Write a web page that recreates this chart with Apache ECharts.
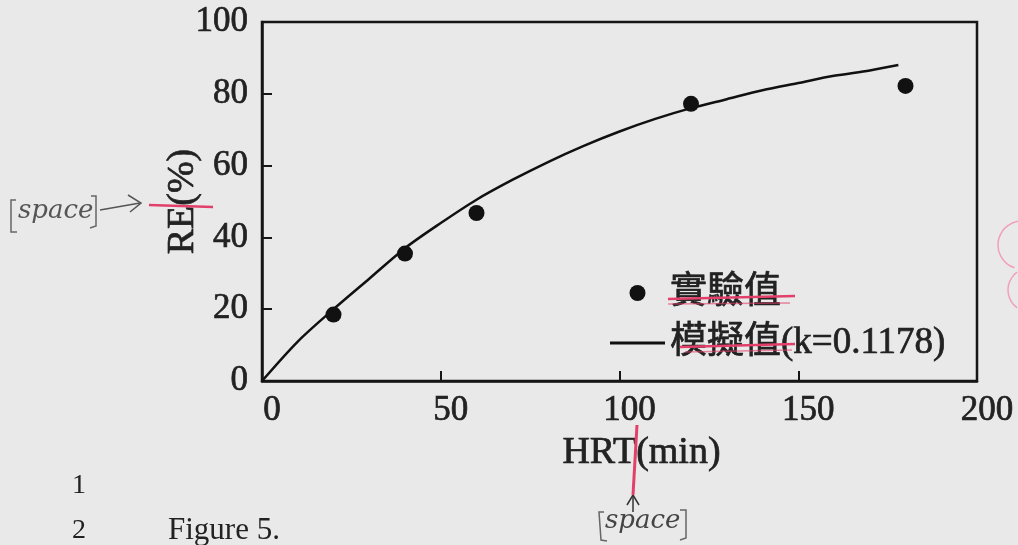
<!DOCTYPE html>
<html>
<head>
<meta charset="utf-8">
<script src="https://cdn.jsdelivr.net/npm/echarts@6/dist/echarts.min.js"></script>
<style>
html,body{margin:0;padding:0;background:#e9e9e9;}
#chart{width:1018px;height:545px;}
</style>
</head>
<body>
<div id="chart"></div>
<script>
// Data
const expHRT = [20, 40, 60, 120, 180];
const expRE = [18.5, 35.5, 46.8, 77.2, 82.2];
const modelHRT = [0, 10, 20, 30, 40, 50, 60, 70, 80, 90, 100, 110, 120, 130, 140, 150, 160, 170, 178];
const modelRE = [0, 11, 20, 28.5, 37, 44, 50.5, 56, 61, 65.5, 69.5, 73, 76, 78.5, 81, 83, 85, 86.5, 88];
const xTicks = [0, 50, 100, 150, 200];
const yTicks = [0, 20, 40, 60, 80, 100];
const seriesNames = ['實驗值', '模擬值(k=0.1178)'];

const serif = '"Liberation Serif", "Noto Sans CJK TC", serif';
const ink = '#161616';
const txt = '#222';
const red = '#e2406a';
const thick = { textBorderColor: txt, textBorderWidth: 0.7 };

const chart = echarts.init(document.getElementById('chart'));
chart.setOption({
  animation: false,
  backgroundColor: '#e9e9e9',
  grid: {
    left: 262, right: 41, top: 22, bottom: 164,
    show: true, borderColor: ink, borderWidth: 2.5, backgroundColor: 'transparent'
  },
  xAxis: {
    type: 'value', min: xTicks[0], max: xTicks[xTicks.length - 1], interval: 50,
    name: 'HRT(min)', nameLocation: 'middle', nameGap: 46,
    nameTextStyle: Object.assign({ fontFamily: serif, fontSize: 38, color: txt, padding: [0, 0, 0, 44] }, thick),
    axisLine: { show: true, lineStyle: { color: ink, width: 2.5 } },
    axisTick: { show: true, inside: true, length: 10, lineStyle: { color: ink, width: 2 } },
    axisLabel: Object.assign({ margin: 12, fontFamily: serif, fontSize: 35, color: txt, padding: [0, 0, 0, 20] }, thick),
    splitLine: { show: false }
  },
  yAxis: {
    type: 'value', min: yTicks[0], max: yTicks[yTicks.length - 1], interval: 20,
    name: 'RE(%)', nameLocation: 'middle', nameGap: 60, nameRotate: 90, nameMoveOverlap: false,
    nameTextStyle: Object.assign({ fontFamily: serif, fontSize: 38, color: txt }, thick),
    axisLine: { show: true, lineStyle: { color: ink, width: 2.5 } },
    axisTick: { show: true, inside: true, length: 10, lineStyle: { color: ink, width: 2 } },
    axisLabel: Object.assign({ margin: 14, fontFamily: serif, fontSize: 35, color: txt, padding: [6, 0, 0, 0] }, thick),
    splitLine: { show: false }
  },
  legend: {
    orient: 'vertical', left: 605, top: 268, itemWidth: 55, itemHeight: 16, itemGap: 10,
    textStyle: Object.assign({ fontFamily: serif, fontSize: 37, color: txt, lineHeight: 40 }, thick),
    data: [
      { name: seriesNames[0], icon: 'circle' },
      { name: seriesNames[1], icon: 'path://M0 0H55V3H0Z', itemStyle: { color: '#111' } }
    ]
  },
  series: [
    {
      name: seriesNames[0], type: 'scatter', symbol: 'circle', symbolSize: 16,
      itemStyle: { color: '#111', opacity: 1 },
      data: expHRT.map((x, i) => [x, expRE[i]])
    },
    {
      name: seriesNames[1], type: 'line', symbol: 'none', smooth: 0.3,
      lineStyle: { color: '#111', width: 2.5 }, itemStyle: { color: '#111' },
      data: modelHRT.map((x, i) => [x, modelRE[i]])
    }
  ],
  graphic: [
    { type: 'text', left: 72, top: 472, style: { text: '1', font: '28px "Liberation Serif"', fill: '#222' } },
    { type: 'text', left: 72, top: 517, style: { text: '2', font: '28px "Liberation Serif"', fill: '#222' } },
    { type: 'text', left: 168, top: 515, style: { text: 'Figure 5.', font: '31px "Liberation Serif"', fill: '#222' } },
    // handwritten annotations
    { type: 'text', left: 18, top: 198, style: { text: 'space', font: 'italic 26px "DejaVu Serif"', fill: '#555' } },
    { type: 'polyline', shape: { points: [[16, 200], [11, 200], [11, 232], [17, 232]] }, style: { stroke: '#666', lineWidth: 1.5, fill: null } },
    { type: 'polyline', shape: { points: [[91, 196], [96, 196], [96, 226], [90, 228]] }, style: { stroke: '#666', lineWidth: 1.5, fill: null } },
    { type: 'polyline', shape: { points: [[100, 210], [140, 203]] }, style: { stroke: '#555', lineWidth: 1.5, fill: null } },
    { type: 'polyline', shape: { points: [[128, 195], [141, 203], [130, 212]] }, style: { stroke: '#555', lineWidth: 1.5, fill: null } },
    { type: 'line', z: 200, shape: { x1: 149, y1: 205, x2: 213, y2: 207 }, style: { stroke: red, lineWidth: 2.5 } },
    { type: 'line', z: 200, shape: { x1: 637, y1: 425, x2: 633, y2: 495 }, style: { stroke: red, lineWidth: 3 } },
    { type: 'polyline', shape: { points: [[627, 505], [633, 495], [639, 505]] }, style: { stroke: '#333', lineWidth: 1.5, fill: null } },
    { type: 'line', shape: { x1: 633, y1: 495, x2: 633, y2: 512 }, style: { stroke: '#333', lineWidth: 1.5 } },
    { type: 'text', left: 605, top: 508, style: { text: 'space', font: 'italic 26px "DejaVu Serif"', fill: '#444' } },
    { type: 'polyline', shape: { points: [[604, 512], [599, 512], [601, 540], [607, 541]] }, style: { stroke: '#666', lineWidth: 1.5, fill: null } },
    { type: 'polyline', shape: { points: [[680, 510], [686, 510], [686, 538], [680, 540]] }, style: { stroke: '#666', lineWidth: 1.5, fill: null } },
    // strike-through lines on legend text
    { type: 'line', z: 200, shape: { x1: 668, y1: 299, x2: 795, y2: 296 }, style: { stroke: red, lineWidth: 2.5 } },
    { type: 'line', z: 200, shape: { x1: 668, y1: 304, x2: 790, y2: 303 }, style: { stroke: red, lineWidth: 1.5, opacity: 0.6 } },
    { type: 'line', z: 200, shape: { x1: 680, y1: 347, x2: 795, y2: 344 }, style: { stroke: red, lineWidth: 2.5 } },
    { type: 'line', z: 200, shape: { x1: 685, y1: 352, x2: 792, y2: 350 }, style: { stroke: red, lineWidth: 1.5, opacity: 0.6 } },
    // pink arc at right edge
    { type: 'arc', shape: { cx: 1022, cy: 245, r: 24, startAngle: Math.PI * 0.6, endAngle: Math.PI * 1.5 }, style: { stroke: '#f2a0b8', lineWidth: 1.5, fill: null } },
    { type: 'arc', shape: { cx: 1030, cy: 290, r: 22, startAngle: Math.PI * 0.7, endAngle: Math.PI * 1.3 }, style: { stroke: '#f2a0b8', lineWidth: 1.5, fill: null } }
  ]
});
</script>
</body>
</html>
